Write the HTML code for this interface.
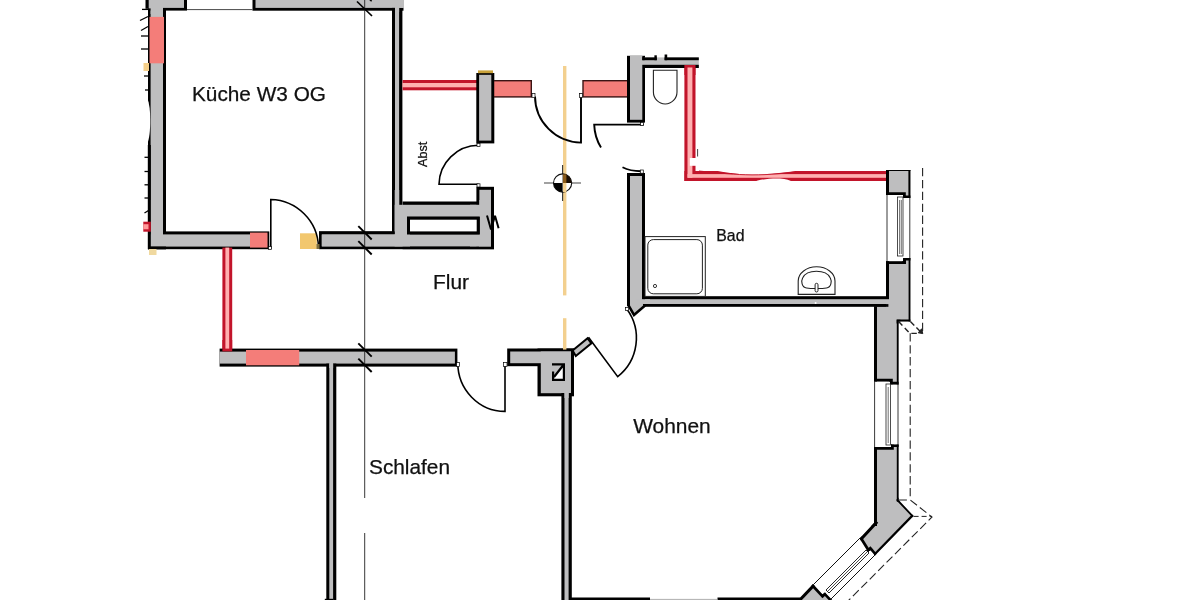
<!DOCTYPE html>
<html lang="de">
<head>
<meta charset="utf-8">
<title>Grundriss W3 OG</title>
<style>
html,body{margin:0;padding:0;background:#fff;}
body{width:1200px;height:600px;overflow:hidden;}
svg{display:block;will-change:transform;}
text{font-family:"Liberation Sans",sans-serif;fill:#111;stroke:#111;stroke-width:0.25px;}
</style>
</head>
<body>
<svg width="1200" height="600" viewBox="0 0 1200 600">
<rect x="0" y="0" width="1200" height="600" fill="#fff"/>
<rect x="148.00" y="0.00" width="18.00" height="249.20" fill="#000" />
<rect x="150.60" y="0.00" width="12.40" height="249.20" fill="#bebebf" />
<rect x="148.20" y="-3.00" width="38.80" height="13.60" fill="#000" />
<rect x="150.40" y="-3.00" width="33.60" height="10.90" fill="#bebebf" />
<rect x="252.50" y="-3.00" width="151.00" height="13.70" fill="#000" />
<rect x="255.50" y="-3.00" width="148.00" height="10.90" fill="#bebebf" />
<rect x="150.60" y="4.00" width="12.40" height="10.00" fill="#bebebf" />
<rect x="145.50" y="0.00" width="3.20" height="8.80" fill="#000" />
<rect x="148.70" y="0.00" width="2.30" height="8.40" fill="#bebebf" />
<line x1="187.00" y1="9.60" x2="252.50" y2="9.60" stroke="#333" stroke-width="0.9" />
<rect x="392.00" y="7.90" width="10.40" height="226.10" fill="#000" />
<rect x="395.00" y="7.90" width="4.10" height="226.10" fill="#bebebf" />
<rect x="395.00" y="4.00" width="4.10" height="8.00" fill="#bebebf" />
<rect x="399.10" y="0.00" width="4.90" height="7.90" fill="#bebebf" />
<rect x="148.20" y="231.40" width="121.10" height="17.80" fill="#000" />
<rect x="148.20" y="234.40" width="118.90" height="12.20" fill="#bebebf" />
<rect x="150.40" y="200.00" width="12.60" height="36.00" fill="#bebebf" />
<rect x="148.20" y="246.60" width="17.80" height="2.60" fill="#000" />
<rect x="147.80" y="145.00" width="3.00" height="104.20" fill="#000" />
<rect x="319.00" y="231.40" width="175.00" height="17.80" fill="#000" />
<rect x="321.80" y="234.40" width="172.20" height="12.00" fill="#bebebf" />
<rect x="402.60" y="201.50" width="91.40" height="47.70" fill="#000" />
<rect x="394.70" y="204.80" width="96.30" height="41.60" fill="#bebebf" />
<rect x="394.70" y="190.00" width="4.50" height="45.00" fill="#bebebf" />
<rect x="476.40" y="186.80" width="17.60" height="59.60" fill="#000" />
<rect x="479.40" y="189.80" width="11.60" height="56.60" fill="#bebebf" />
<rect x="479.40" y="200.00" width="11.60" height="46.40" fill="#bebebf" />
<rect x="470.00" y="204.80" width="10.00" height="41.60" fill="#bebebf" />
<rect x="407.00" y="216.70" width="72.70" height="17.70" fill="#000" />
<rect x="410.00" y="219.70" width="66.70" height="11.70" fill="#fff" />
<rect x="319.00" y="231.40" width="75.70" height="3.00" fill="#000" />
<rect x="321.80" y="234.40" width="88.20" height="12.00" fill="#bebebf" />
<rect x="407.00" y="216.70" width="72.70" height="17.70" fill="#000" />
<rect x="410.00" y="219.70" width="66.70" height="11.70" fill="#fff" />
<rect x="149.50" y="16.90" width="14.50" height="46.40" fill="#f47d79" />
<rect x="250.00" y="232.60" width="17.50" height="15.00" fill="#f47d79" />
<rect x="300.00" y="233.30" width="16.80" height="15.70" fill="#f2c76e" />
<rect x="149.00" y="249.00" width="7.50" height="6.00" fill="#f0d9a0" />
<rect x="143.50" y="63.00" width="5.50" height="8.00" fill="#f5cf8a" />
<rect x="143.30" y="221.70" width="7.50" height="10.00" fill="#c2142a" />
<rect x="143.30" y="224.20" width="5.20" height="5.10" fill="#ff9a9a" />
<line x1="142.00" y1="9.40" x2="148.00" y2="9.40" stroke="#000" stroke-width="1.3" />
<line x1="140.00" y1="20.50" x2="148.00" y2="16.50" stroke="#000" stroke-width="1.3" />
<line x1="141.00" y1="30.50" x2="148.00" y2="26.50" stroke="#000" stroke-width="1.3" />
<line x1="141.00" y1="36.00" x2="148.00" y2="36.00" stroke="#000" stroke-width="1.3" />
<line x1="141.00" y1="49.00" x2="148.00" y2="49.00" stroke="#000" stroke-width="1.3" />
<line x1="144.00" y1="76.00" x2="148.00" y2="76.00" stroke="#000" stroke-width="1.3" />
<line x1="145.00" y1="90.00" x2="148.00" y2="90.00" stroke="#000" stroke-width="1.3" />
<line x1="144.50" y1="157.30" x2="148.50" y2="157.30" stroke="#000" stroke-width="1.3" />
<line x1="144.50" y1="171.50" x2="148.50" y2="171.50" stroke="#000" stroke-width="1.3" />
<line x1="144.50" y1="184.80" x2="148.50" y2="184.80" stroke="#000" stroke-width="1.3" />
<line x1="144.50" y1="198.00" x2="148.50" y2="198.00" stroke="#000" stroke-width="1.3" />
<line x1="144.50" y1="213.00" x2="148.50" y2="210.50" stroke="#000" stroke-width="1.3" />
<path d="M147,97 C149.6,104 150.2,111 150.2,120 C150.2,130 149.6,138 147,145 Z" fill="#fff" stroke="none" stroke-width="0" />
<line x1="369.80" y1="-0.50" x2="371.60" y2="1.30" stroke="#000" stroke-width="1.5" />
<rect x="402.60" y="80.00" width="75.40" height="10.30" fill="#c2142a" />
<rect x="402.60" y="83.00" width="75.40" height="4.30" fill="#ffb0b0" />
<rect x="222.40" y="247.60" width="9.80" height="103.40" fill="#c2142a" />
<rect x="225.40" y="247.60" width="3.80" height="103.40" fill="#ffb0b0" />
<rect x="684.40" y="65.00" width="11.10" height="116.00" fill="#c2142a" />
<rect x="684.40" y="171.00" width="203.60" height="10.00" fill="#c2142a" />
<rect x="687.50" y="67.00" width="4.90" height="110.80" fill="#ffb0b0" />
<rect x="687.50" y="174.10" width="199.50" height="3.70" fill="#ffb0b0" />
<path d="M699,167 C720,172 735,174.3 752,174.5 C770,174.5 785,172.7 799,170.6 L799,167 Z" fill="#fff" stroke="none" stroke-width="0" />
<path d="M699,171 C720,173.2 735,174.7 752,174.9 C770,174.9 785,173.3 799,171.5" fill="none" stroke="#c2142a" stroke-width="0.9" />
<path d="M752,182.5 C760,179.2 770,178.2 780,178.5 C786,178.7 790,180.6 794,182.5 Z" fill="#fff" stroke="none" stroke-width="0" />
<rect x="689.80" y="158.00" width="6.70" height="7.80" fill="#fff" />
<line x1="697.60" y1="149.00" x2="697.60" y2="156.50" stroke="#444" stroke-width="1" />
<rect x="476.30" y="73.00" width="18.00" height="70.40" fill="#000" />
<rect x="479.10" y="74.80" width="12.20" height="65.80" fill="#bebebf" />
<rect x="478.00" y="70.40" width="15.00" height="2.80" fill="#c9a23a" />
<rect x="494.00" y="80.00" width="38.00" height="17.60" fill="#3a1414" />
<rect x="494.30" y="81.40" width="36.30" height="14.80" fill="#f47d79" />
<rect x="582.30" y="80.00" width="46.20" height="17.60" fill="#3a1414" />
<rect x="583.70" y="81.40" width="44.80" height="14.80" fill="#f47d79" />
<rect x="627.00" y="55.80" width="18.00" height="66.80" fill="#000" />
<rect x="630.00" y="55.80" width="12.30" height="64.00" fill="#bebebf" />
<rect x="630.00" y="57.40" width="68.80" height="10.60" fill="#bebebf" />
<rect x="630.00" y="56.00" width="12.30" height="4.00" fill="#bebebf" />
<rect x="642.30" y="64.80" width="56.50" height="3.20" fill="#000" />
<rect x="642.30" y="57.40" width="14.50" height="2.80" fill="#000" />
<rect x="642.30" y="56.50" width="2.30" height="3.70" fill="#000" />
<rect x="654.40" y="55.30" width="2.40" height="4.90" fill="#000" />
<rect x="664.60" y="57.40" width="34.20" height="2.80" fill="#000" />
<rect x="664.60" y="54.50" width="2.60" height="5.70" fill="#000" />
<rect x="684.40" y="65.00" width="11.10" height="10.00" fill="#c2142a" />
<rect x="687.50" y="67.50" width="4.90" height="7.50" fill="#ffb0b0" />
<path d="M653.4,70.2 H677 V92 A11.8,12 0 0 1 653.4,92 Z" fill="#fff" stroke="#222" stroke-width="1.1" />
<rect x="627.00" y="173.00" width="18.00" height="127.00" fill="#000" />
<rect x="630.00" y="176.00" width="12.00" height="124.00" fill="#bebebf" />
<rect x="640.00" y="296.20" width="248.50" height="10.60" fill="#000" />
<rect x="640.00" y="299.20" width="248.50" height="4.80" fill="#bebebf" />
<polygon points="628.50,298.00 628.50,305.50 634.00,315.00 644.50,306.00 643.50,298.00" fill="#bebebf" stroke="#000" stroke-width="2.6" stroke-linejoin="miter" />
<rect x="630.00" y="290.00" width="12.00" height="13.00" fill="#bebebf" />
<rect x="636.00" y="299.20" width="14.00" height="4.80" fill="#bebebf" />
<rect x="627.00" y="173.00" width="3.00" height="133.00" fill="#000" />
<rect x="645.00" y="236.60" width="60.30" height="59.80" fill="#fff" stroke="#222" stroke-width="1"/>
<rect x="647.8" y="239.6" width="54.6" height="54.2" rx="5.5" fill="#fff" stroke="#222" stroke-width="1"/>
<circle cx="655" cy="286" r="1.6" fill="#fff" stroke="#222" stroke-width="0.9"/>
<path d="M798.2,294.4 V281 A18.4,14.2 0 0 1 835,281 V294.4 Z" fill="#fff" stroke="#222" stroke-width="1.1" />
<path d="M806.5,288 C801.6,287.6 801,281 802.6,278 C805,273.2 811,271.3 816.4,271.3 C822,271.3 828,273.2 830.3,278 C832,281 831.4,287.6 826.5,288 C822,288.7 811,288.7 806.5,288 Z" fill="#fff" stroke="#222" stroke-width="1.1" />
<rect x="815.1" y="283.3" width="2.9" height="8.7" rx="1.45" fill="#fff" stroke="#222" stroke-width="1"/>
<circle cx="815.6" cy="303" r="1" fill="#fff"/>
<clipPath id="c1"><polygon points="886.00,170.00 910.40,170.00 910.40,198.00 903.00,198.00 903.00,195.00 886.00,195.00"/></clipPath>
<polygon points="886.00,170.00 910.40,170.00 910.40,198.00 903.00,198.00 903.00,195.00 886.00,195.00" fill="#bebebf"/>
<g clip-path="url(#c1)" stroke="#000" stroke-linecap="square">
<line x1="886.00" y1="170.00" x2="910.40" y2="170.00" stroke-width="1.80"/>
<line x1="910.40" y1="170.00" x2="910.40" y2="198.00" stroke-width="4.00"/>
<line x1="910.40" y1="198.00" x2="903.00" y2="198.00" stroke-width="5.00"/>
<line x1="903.00" y1="198.00" x2="903.00" y2="195.00" stroke-width="2.00"/>
<line x1="903.00" y1="195.00" x2="886.00" y2="195.00" stroke-width="5.60"/>
<line x1="886.00" y1="195.00" x2="886.00" y2="170.00" stroke-width="6.00"/>
</g>
<line x1="887.00" y1="195.00" x2="887.00" y2="261.50" stroke="#222" stroke-width="0.9" />
<line x1="909.80" y1="198.00" x2="909.80" y2="258.50" stroke="#222" stroke-width="0.9" />
<rect x="897.60" y="197.00" width="5.40" height="59.00" fill="#fff" stroke="#222" stroke-width="0.8"/>
<line x1="899.60" y1="200.00" x2="899.60" y2="254.00" stroke="#333" stroke-width="0.7" />
<line x1="901.30" y1="200.00" x2="901.30" y2="254.00" stroke="#333" stroke-width="0.7" />
<clipPath id="c2"><polygon points="886.00,261.20 903.20,261.20 903.20,258.00 910.40,258.00 910.40,321.50 898.60,321.50 898.60,384.40 890.00,384.40 890.00,381.60 874.00,381.60 874.00,306.80 886.00,306.80"/></clipPath>
<polygon points="886.00,261.20 903.20,261.20 903.20,258.00 910.40,258.00 910.40,321.50 898.60,321.50 898.60,384.40 890.00,384.40 890.00,381.60 874.00,381.60 874.00,306.80 886.00,306.80" fill="#bebebf"/>
<g clip-path="url(#c2)" stroke="#000" stroke-linecap="square">
<line x1="886.00" y1="261.20" x2="903.20" y2="261.20" stroke-width="5.60"/>
<line x1="903.20" y1="261.20" x2="903.20" y2="258.00" stroke-width="2.00"/>
<line x1="903.20" y1="258.00" x2="910.40" y2="258.00" stroke-width="5.00"/>
<line x1="910.40" y1="258.00" x2="910.40" y2="321.50" stroke-width="3.60"/>
<line x1="910.40" y1="321.50" x2="898.60" y2="321.50" stroke-width="4.00"/>
<line x1="898.60" y1="321.50" x2="898.60" y2="384.40" stroke-width="3.60"/>
<line x1="898.60" y1="384.40" x2="890.00" y2="384.40" stroke-width="5.20"/>
<line x1="890.00" y1="384.40" x2="890.00" y2="381.60" stroke-width="2.00"/>
<line x1="890.00" y1="381.60" x2="874.00" y2="381.60" stroke-width="5.60"/>
<line x1="874.00" y1="381.60" x2="874.00" y2="306.80" stroke-width="6.00"/>
</g>
<rect x="886.00" y="261.20" width="3.00" height="38.00" fill="#000" />
<rect x="874.00" y="306.80" width="3.00" height="5.20" fill="#000" />
<rect x="874.00" y="304.10" width="14.40" height="2.70" fill="#000" />
<line x1="874.60" y1="381.00" x2="874.60" y2="448.00" stroke="#222" stroke-width="0.9" />
<line x1="898.00" y1="384.00" x2="898.00" y2="446.00" stroke="#222" stroke-width="0.9" />
<rect x="886.00" y="384.00" width="4.40" height="61.00" fill="#fff" stroke="#222" stroke-width="0.8"/>
<line x1="888.20" y1="387.00" x2="888.20" y2="443.00" stroke="#333" stroke-width="0.7" />
<clipPath id="c3"><polygon points="874.00,447.00 891.00,447.00 891.00,444.60 898.60,444.60 898.60,500.00 913.60,516.00 875.00,555.60 870.20,550.00 868.00,552.00 859.60,538.60 874.00,523.00"/></clipPath>
<polygon points="874.00,447.00 891.00,447.00 891.00,444.60 898.60,444.60 898.60,500.00 913.60,516.00 875.00,555.60 870.20,550.00 868.00,552.00 859.60,538.60 874.00,523.00" fill="#bebebf"/>
<g clip-path="url(#c3)" stroke="#000" stroke-linecap="square">
<line x1="874.00" y1="447.00" x2="891.00" y2="447.00" stroke-width="5.60"/>
<line x1="891.00" y1="447.00" x2="891.00" y2="444.60" stroke-width="2.00"/>
<line x1="891.00" y1="444.60" x2="898.60" y2="444.60" stroke-width="5.00"/>
<line x1="898.60" y1="444.60" x2="898.60" y2="500.00" stroke-width="3.60"/>
<line x1="898.60" y1="500.00" x2="913.60" y2="516.00" stroke-width="3.60"/>
<line x1="913.60" y1="516.00" x2="875.00" y2="555.60" stroke-width="4.60"/>
<line x1="875.00" y1="555.60" x2="870.20" y2="550.00" stroke-width="5.20"/>
<line x1="870.20" y1="550.00" x2="868.00" y2="552.00" stroke-width="2.00"/>
<line x1="868.00" y1="552.00" x2="859.60" y2="538.60" stroke-width="5.60"/>
<line x1="859.60" y1="538.60" x2="874.00" y2="523.00" stroke-width="6.00"/>
<line x1="874.00" y1="523.00" x2="874.00" y2="447.00" stroke-width="6.00"/>
</g>
<line x1="860.00" y1="538.00" x2="813.00" y2="585.00" stroke="#111" stroke-width="1" />
<line x1="875.00" y1="555.00" x2="828.00" y2="602.00" stroke="#111" stroke-width="1" />
<path d="M866,550 L826,590 L829,593 L869,553 Z" fill="#fff" stroke="#111" stroke-width="0.9" />
<line x1="867.50" y1="551.50" x2="827.50" y2="591.50" stroke="#222" stroke-width="0.8" />
<clipPath id="c4"><polygon points="813.00,584.00 822.60,594.40 825.00,592.40 836.00,604.00 794.00,604.00"/></clipPath>
<polygon points="813.00,584.00 822.60,594.40 825.00,592.40 836.00,604.00 794.00,604.00" fill="#bebebf"/>
<g clip-path="url(#c4)" stroke="#000" stroke-linecap="square">
<line x1="813.00" y1="584.00" x2="822.60" y2="594.40" stroke-width="5.60"/>
<line x1="822.60" y1="594.40" x2="825.00" y2="592.40" stroke-width="2.00"/>
<line x1="825.00" y1="592.40" x2="836.00" y2="604.00" stroke-width="5.20"/>
<line x1="794.00" y1="604.00" x2="813.00" y2="584.00" stroke-width="6.00"/>
</g>
<line x1="922.60" y1="168.00" x2="922.60" y2="333.00" stroke="#222" stroke-width="1.1" stroke-dasharray="8.3 3.6"/>
<path d="M910.4,321.5 L921.5,332.6" fill="none" stroke="#222" stroke-width="1.4" stroke-dasharray="5.5 3"/>
<path d="M918.2,332.8 L922.8,333.6 L921.6,328.8 Z" fill="#222" stroke="#222" stroke-width="1" />
<path d="M898.6,321.5 L910,333.4 H920" fill="none" stroke="#222" stroke-width="1.4" stroke-dasharray="5.5 3.4"/>
<line x1="910.20" y1="333.30" x2="910.20" y2="500.00" stroke="#222" stroke-width="1.1" stroke-dasharray="8.3 3.6"/>
<path d="M898.6,500 H910.2 L932,517 L847,602" fill="none" stroke="#222" stroke-width="1.1" stroke-dasharray="8.3 3.6"/>
<path d="M913.6,516.4 H932" fill="none" stroke="#222" stroke-width="1" stroke-dasharray="5 3"/>
<rect x="219.60" y="348.60" width="237.80" height="18.00" fill="#000" />
<rect x="219.60" y="351.60" width="235.30" height="12.00" fill="#bebebf" />
<rect x="246.00" y="350.00" width="53.20" height="15.30" fill="#f47d79" />
<rect x="222.40" y="340.00" width="9.80" height="11.40" fill="#c2142a" />
<rect x="225.40" y="340.00" width="3.80" height="8.60" fill="#ffb0b0" />
<rect x="326.30" y="363.60" width="10.00" height="238.40" fill="#000" />
<rect x="329.30" y="363.60" width="3.80" height="238.40" fill="#bebebf" />
<rect x="329.30" y="360.00" width="3.80" height="8.00" fill="#bebebf" />
<rect x="324.80" y="598.80" width="8.20" height="1.20" fill="#000" />
<rect x="507.20" y="348.50" width="66.80" height="17.70" fill="#000" />
<rect x="537.50" y="348.50" width="36.50" height="47.80" fill="#000" />
<rect x="510.20" y="351.50" width="60.80" height="11.70" fill="#bebebf" />
<rect x="540.80" y="351.50" width="30.20" height="41.70" fill="#bebebf" />
<polygon points="554.00,379.00 554.00,376.50 563.00,365.50 563.00,379.00" fill="#fff" stroke="none" stroke-width="0" stroke-linejoin="miter" />
<path d="M552,364.4 H563.9 V379.9 H553.1 V371.5 M554,377 L563,365.5" fill="none" stroke="#000" stroke-width="2.2" />
<rect x="561.40" y="393.00" width="10.40" height="209.00" fill="#000" />
<rect x="564.50" y="393.00" width="4.10" height="209.00" fill="#bebebf" />
<rect x="564.50" y="388.00" width="4.10" height="10.00" fill="#bebebf" />
<line x1="571.00" y1="598.80" x2="650.00" y2="598.80" stroke="#000" stroke-width="2.4" />
<line x1="717.50" y1="598.80" x2="800.00" y2="598.80" stroke="#000" stroke-width="2.4" />
<line x1="650.00" y1="599.40" x2="717.50" y2="599.40" stroke="#999" stroke-width="0.8" />
<polygon points="572.60,350.60 587.60,338.30 591.40,343.40 575.80,356.00" fill="#bebebf" stroke="#000" stroke-width="2" stroke-linejoin="miter" />
<line x1="364.70" y1="0.00" x2="364.70" y2="498.00" stroke="#222" stroke-width="0.9" />
<line x1="364.70" y1="533.00" x2="364.70" y2="600.00" stroke="#222" stroke-width="0.9" />
<line x1="358.30" y1="226.10" x2="371.70" y2="239.50" stroke="#000" stroke-width="1.9" />
<line x1="358.30" y1="241.10" x2="371.70" y2="254.50" stroke="#000" stroke-width="1.9" />
<line x1="358.30" y1="343.30" x2="371.70" y2="356.70" stroke="#000" stroke-width="1.9" />
<line x1="358.30" y1="358.60" x2="371.70" y2="372.00" stroke="#000" stroke-width="1.9" />
<line x1="357.00" y1="1.50" x2="372.00" y2="16.00" stroke="#000" stroke-width="1.7" />
<rect x="563.00" y="66.00" width="3.40" height="229.40" fill="#f3d08f" />
<rect x="563.00" y="318.20" width="3.40" height="31.40" fill="#f3d08f" />
<path d="M270.8,249 V199.5 A49,49 0 0 1 318.5,247" fill="none" stroke="#000" stroke-width="1.6" />
<rect x="268.50" y="246.50" width="3.00" height="3.00" fill="#fff" stroke="#000" stroke-width="0.7"/>
<rect x="316.50" y="244.00" width="3.00" height="5.00" fill="#7a6a3a" />
<path d="M478.6,145.3 A40,39.5 0 0 0 439,184.3 H478.6" fill="none" stroke="#000" stroke-width="1.6" />
<rect x="477.00" y="143.40" width="3.00" height="3.00" fill="#fff" stroke="#000" stroke-width="0.7"/>
<rect x="477.00" y="183.80" width="3.00" height="3.20" fill="#fff" stroke="#000" stroke-width="0.7"/>
<path d="M535,96.5 A46.5,46.5 0 0 0 581,142.6 V93.5" fill="none" stroke="#000" stroke-width="1.9000000000000001" />
<rect x="532.00" y="93.50" width="3.00" height="4.00" fill="#fff" stroke="#000" stroke-width="0.7"/>
<rect x="579.50" y="93.50" width="3.00" height="4.00" fill="#fff" stroke="#000" stroke-width="0.7"/>
<path d="M644,124.6 H594.2 Q594.6,137 601,147.5" fill="none" stroke="#000" stroke-width="1.9000000000000001" />
<rect x="640.50" y="122.50" width="3.00" height="3.00" fill="#fff" stroke="#000" stroke-width="0.7"/>
<path d="M622.5,167.3 Q631,171.6 643,171.2" fill="none" stroke="#000" stroke-width="1.8" />
<rect x="640.30" y="170.00" width="3.00" height="3.20" fill="#fff" stroke="#000" stroke-width="0.7"/>
<path d="M457.8,363 A47.3,48.5 0 0 0 505,411.4 V363" fill="none" stroke="#000" stroke-width="1.6" />
<rect x="456.60" y="362.40" width="2.80" height="4.00" fill="#fff" stroke="#000" stroke-width="0.7"/>
<rect x="503.60" y="362.40" width="3.40" height="4.00" fill="#fff" stroke="#000" stroke-width="0.7"/>
<path d="M588.5,337.2 L617.7,376.7 A49.1,49.1 0 0 0 626.8,309" fill="none" stroke="#000" stroke-width="1.6" />
<rect x="625.50" y="307.50" width="3.00" height="3.00" fill="#fff" stroke="#000" stroke-width="0.7"/>
<path d="M487,215.5 L491,229.5 L495,215.8 L498.6,228.2" fill="none" stroke="#000" stroke-width="2" stroke-linejoin="bevel"/>
<line x1="544.00" y1="183.00" x2="581.00" y2="183.00" stroke="#444" stroke-width="1.1" />
<line x1="562.60" y1="165.00" x2="562.60" y2="201.00" stroke="#333" stroke-width="1.1" />
<circle cx="562.6" cy="183" r="9.1" fill="#fff" stroke="#111" stroke-width="1.1"/>
<path d="M562.6,183 V173.9 A9.1,9.1 0 0 1 571.7,183 Z" fill="#1a0d02" stroke="none" stroke-width="0" />
<path d="M562.6,183 V192.1 A9.1,9.1 0 0 1 553.5,183 Z" fill="#000" stroke="none" stroke-width="0" />
<rect x="563.00" y="174.30" width="3.40" height="8.70" fill="#8a5a18" />
<rect x="563.00" y="183.00" width="3.40" height="9.00" fill="#f3d08f" />
<text x="192" y="101.3" font-size="20.2" textLength="134" lengthAdjust="spacingAndGlyphs">Küche W3 OG</text>
<text x="433" y="288.5" font-size="20.2" textLength="36" lengthAdjust="spacingAndGlyphs">Flur</text>
<text x="369" y="474" font-size="20.3" textLength="81" lengthAdjust="spacingAndGlyphs">Schlafen</text>
<text x="633.2" y="432.9" font-size="20.2" textLength="77.5" lengthAdjust="spacingAndGlyphs">Wohnen</text>
<text x="716.3" y="240.6" font-size="15.6" textLength="28.2" lengthAdjust="spacingAndGlyphs">Bad</text>
<text transform="translate(426.6,167) rotate(-90)" font-size="12.6">Abst</text>
</svg>
</body>
</html>
